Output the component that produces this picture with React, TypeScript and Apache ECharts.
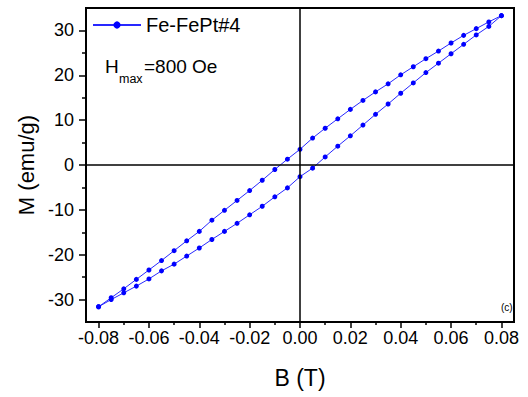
import React, { useEffect, useRef } from "react";
import * as echarts from "echarts";

// Field values (T) of the ascending branch (-0.08 -> 0.08)
const fieldUp = [
  -0.08, -0.075, -0.07, -0.065, -0.06, -0.055, -0.05, -0.045, -0.04, -0.035, -0.03,
  -0.025, -0.02, -0.015, -0.01, -0.005, 0, 0.005, 0.01, 0.015, 0.02, 0.025, 0.03,
  0.035, 0.04, 0.045, 0.05, 0.055, 0.06, 0.065, 0.07, 0.075, 0.08,
];
const magUp = [
  -31.6, -30.0, -28.5, -27.0, -25.4, -23.6, -22.1, -20.3, -18.5, -16.6, -14.8,
  -13.0, -11.1, -9.2, -7.1, -5.1, -2.6, -0.7, 1.8, 4.2, 6.5, 8.9, 11.3,
  13.6, 16.0, 18.3, 20.6, 22.7, 24.8, 26.9, 29.0, 30.9, 33.3,
];
// Descending branch (0.08 -> -0.08)
const fieldDown = [
  0.08, 0.075, 0.07, 0.065, 0.06, 0.055, 0.05, 0.045, 0.04, 0.035, 0.03, 0.025,
  0.02, 0.015, 0.01, 0.005, 0, -0.005, -0.01, -0.015, -0.02, -0.025, -0.03,
  -0.035, -0.04, -0.045, -0.05, -0.055, -0.06, -0.065, -0.07, -0.075, -0.08,
];
const magDown = [
  33.3, 31.9, 30.4, 28.9, 27.2, 25.4, 23.7, 21.9, 20.1, 18.1, 16.3, 14.4,
  12.4, 10.3, 8.2, 6.0, 3.5, 1.3, -1.0, -3.4, -5.7, -7.9, -10.1,
  -12.3, -14.8, -16.9, -19.1, -21.3, -23.4, -25.5, -27.6, -29.6, -31.6,
];

const xMajorTicks = [-0.08, -0.06, -0.04, -0.02, 0, 0.02, 0.04, 0.06, 0.08];
const xMinorTicks = [-0.07, -0.05, -0.03, -0.01, 0.01, 0.03, 0.05, 0.07];
const yMajorTicks = [-30, -20, -10, 0, 10, 20, 30];
const yMinorTicks = [-25, -15, -5, 5, 15, 25];

const seriesName = "Fe-FePt#4";
const FONT = "'Liberation Sans', Arial, sans-serif";

const X_MIN = -0.085;
const X_MAX = 0.085;
const Y_MIN = -35;
const Y_MAX = 35;

const GRID = { left: 86, right: 14, top: 8, bottom: 75 };
const W = 528;
const H = 397;

export default function App() {
  const ref = useRef<HTMLDivElement>(null);

  useEffect(() => {
    document.body.style.margin = "0";
    if (!ref.current) return;
    const chart = echarts.init(ref.current, undefined, { renderer: "svg" });

    const data: number[][] = [];
    fieldUp.forEach((b, i) => data.push([b, magUp[i]]));
    fieldDown.forEach((b, i) => data.push([b, magDown[i]]));

    const tickStyle = { color: "#000", width: 1.5 };

    chart.setOption({
      animation: false,
      textStyle: { fontFamily: FONT },
      grid: { ...GRID },
      legend: {
        data: [seriesName],
        left: 92,
        top: 15,
        padding: 0,
        itemWidth: 48,
        itemHeight: 9,
        itemGap: 5,
        textStyle: { fontSize: 20, color: "#000", fontFamily: FONT },
      },
      xAxis: [
        {
          type: "value",
          min: X_MIN,
          max: X_MAX,
          position: "bottom",
          axisLine: { show: true, onZero: false, lineStyle: { color: "#000", width: 1.5 } },
          axisTick: { show: true, customValues: xMajorTicks, length: 6, lineStyle: tickStyle },
          axisLabel: {
            customValues: xMajorTicks,
            formatter: (v: number) => v.toFixed(2),
            fontSize: 18,
            color: "#000",
            margin: 7,
            fontFamily: FONT,
          },
          splitLine: { show: false },
          name: "B (T)",
          nameLocation: "middle",
          nameGap: 44,
          nameTextStyle: { fontSize: 23, color: "#000", fontFamily: FONT },
        },
        {
          type: "value",
          min: X_MIN,
          max: X_MAX,
          position: "bottom",
          axisLine: { show: false, onZero: false },
          axisTick: { show: true, customValues: xMinorTicks, length: 3, lineStyle: tickStyle },
          axisLabel: { show: false },
          splitLine: { show: false },
        },
      ],
      yAxis: [
        {
          type: "value",
          min: Y_MIN,
          max: Y_MAX,
          position: "left",
          axisLine: { show: true, onZero: false, lineStyle: { color: "#000", width: 1.5 } },
          axisTick: { show: true, customValues: yMajorTicks, length: 7, lineStyle: tickStyle },
          axisLabel: {
            customValues: yMajorTicks,
            fontSize: 18,
            color: "#000",
            margin: 12,
            fontFamily: FONT,
          },
          splitLine: { show: false },
          name: "M (emu/g)",
          nameLocation: "middle",
          nameGap: 47,
          nameTextStyle: { fontSize: 22, color: "#000", fontFamily: FONT },
        },
        {
          type: "value",
          min: Y_MIN,
          max: Y_MAX,
          position: "left",
          axisLine: { show: false, onZero: false },
          axisTick: { show: true, customValues: yMinorTicks, length: 4, lineStyle: tickStyle },
          axisLabel: { show: false },
          splitLine: { show: false },
        },
      ],
      series: [
        {
          name: seriesName,
          type: "line",
          xAxisIndex: 0,
          yAxisIndex: 0,
          data,
          symbol: "circle",
          symbolSize: 5,
          showSymbol: true,
          lineStyle: { color: "#2828ff", width: 1 },
          itemStyle: { color: "#0000ff" },
          markLine: {
            silent: true,
            symbol: ["none", "none"],
            label: { show: false },
            lineStyle: { color: "#000", width: 1.5, type: "solid" },
            data: [{ xAxis: 0 }, { yAxis: 0 }],
          },
          z: 3,
        },
      ],
      graphic: [
        {
          type: "rect",
          shape: {
            x: GRID.left,
            y: GRID.top,
            width: W - GRID.left - GRID.right,
            height: H - GRID.top - GRID.bottom,
          },
          style: { fill: "none", stroke: "#000000", lineWidth: 2 },
          silent: true,
          z: 100,
        },
        {
          type: "text",
          x: 105,
          y: 76,
          style: { text: "H", font: `19px ${FONT}`, fill: "#000", textVerticalAlign: "bottom" },
        },
        {
          type: "text",
          x: 119,
          y: 85,
          style: { text: "max", font: `12.5px ${FONT}`, fill: "#000", textVerticalAlign: "bottom" },
        },
        {
          type: "text",
          x: 144,
          y: 76,
          style: { text: "=800 Oe", font: `19px ${FONT}`, fill: "#000", textVerticalAlign: "bottom" },
        },
        {
          type: "text",
          x: 501,
          y: 307,
          style: { text: "(c)", font: `10px ${FONT}`, fill: "#000", textVerticalAlign: "middle" },
        },
      ],
    });

    return () => chart.dispose();
  }, []);

  return <div ref={ref} style={{ width: W, height: H }} />;
}
